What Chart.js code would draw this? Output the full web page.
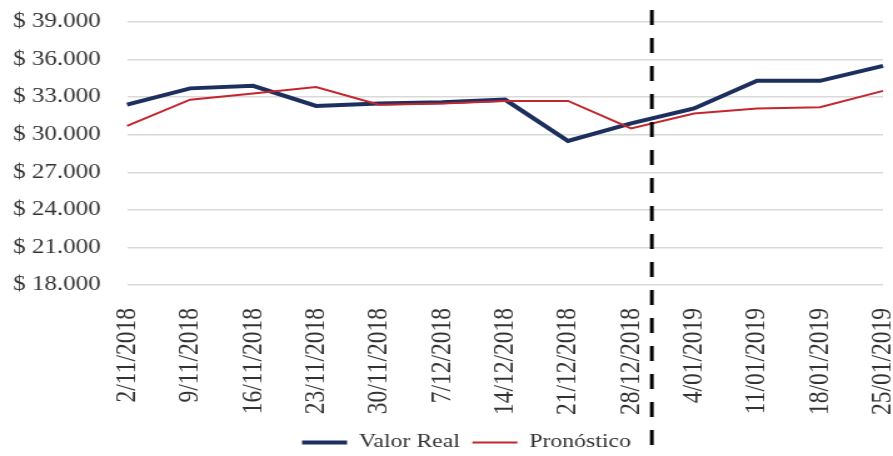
<!DOCTYPE html>
<html>
<head>
<meta charset="utf-8">
<script src="https://cdn.jsdelivr.net/npm/chart.js@4/dist/chart.umd.min.js"></script>
<style>
  html, body { margin: 0; padding: 0; background: #ffffff; overflow: hidden; }
  #wrap { width: 893px; height: 456px; overflow: hidden; }
  /* the drawing is set in a narrower canvas and widened to the page */
  #chart { display: block; width: 714px; height: 456px; transform-origin: 0 0; transform: scaleX(1.2507); }
</style>
</head>
<body>
<div id="wrap"><canvas id="chart" width="714" height="456"></canvas></div>
<script>
// Weekly dates
const fechas = ['2/11/2018', '9/11/2018', '16/11/2018', '23/11/2018', '30/11/2018', '7/12/2018',
                '14/12/2018', '21/12/2018', '28/12/2018', '4/01/2019', '11/01/2019', '18/01/2019', '25/01/2019'];
// Observed price
const valorReal = [32400, 33700, 33900, 32300, 32500, 32600, 32800, 29500, 30900, 32100, 34300, 34300, 35500];
// Model forecast
const pronostico = [30700, 32800, 33300, 33800, 32400, 32500, 32700, 32700, 30500, 31700, 32100, 32200, 33500];
// Y axis range and step
const yMin = 18000, yMax = 39000, yStep = 3000;
// Where the forecast period begins (category index)
const inicioPronostico = 8.33;

const serif = "'Liberation Serif', 'Times New Roman', serif";
const textColor = '#333333';
Chart.defaults.font.family = serif;

function formatPeso(v) {
  return '$ ' + v.toLocaleString('es-CO').replace(/,/g, '.');
}

// Vertical dashed divider between observed and forecast periods
const divider = {
  id: 'divider',
  afterDraw(chart) {
    const x = chart.scales.x.getPixelForValue(inicioPronostico);
    const ctx = chart.ctx;
    ctx.save();
    ctx.strokeStyle = '#000000';
    ctx.lineWidth = 3;
    ctx.setLineDash([15, 13]);
    ctx.beginPath();
    ctx.moveTo(x, 10);
    ctx.lineTo(x, chart.height);
    ctx.stroke();
    ctx.restore();
  }
};

// Nudge the centred legend a little to the right
const legendShift = {
  id: 'legendShift',
  afterLayout(chart) {
    const lg = chart.legend;
    if (lg) { lg.left += 20; lg.right += 20; }
  }
};

new Chart(document.getElementById('chart'), {
  type: 'line',
  data: {
    labels: fechas,
    datasets: [
      {
        label: 'Valor Real',
        data: valorReal,
        borderColor: '#1c2f5e',
        backgroundColor: '#1c2f5e',
        borderWidth: 4,
        pointRadius: 0,
        tension: 0,
        order: 1
      },
      {
        label: 'Pronóstico',
        data: pronostico,
        borderColor: '#c4262e',
        backgroundColor: '#c4262e',
        borderWidth: 2,
        pointRadius: 0,
        tension: 0,
        order: 0
      }
    ]
  },
  options: {
    responsive: false,
    animation: false,
    devicePixelRatio: 1,
    layout: { padding: { left: 0, right: 8, top: 22, bottom: -6 } },
    plugins: {
      tooltip: { enabled: false },
      legend: {
        position: 'bottom',
        labels: {
          usePointStyle: true,
          pointStyle: 'line',
          pointStyleWidth: 36,
          padding: 10,
          color: textColor,
          font: { family: serif, size: 19 },
          sort: (a, b) => a.datasetIndex - b.datasetIndex
        }
      }
    },
    scales: {
      x: {
        offset: false,
        grid: { display: false },
        border: { display: false },
        ticks: {
          autoSkip: false,
          minRotation: 90,
          maxRotation: 90,
          padding: 15,
          color: textColor,
          font: { family: serif, size: 23.5 }
        },
        afterFit(scale) {
          scale.height = 138;
          scale.paddingRight = 8;
          scale.paddingLeft = 0;
          scale.paddingTop = 0;
          scale.paddingBottom = 0;
        }
      },
      y: {
        min: yMin,
        max: yMax,
        grid: { color: '#d9d9d9', lineWidth: 1.5, drawTicks: false },
        border: { display: false },
        ticks: {
          stepSize: yStep,
          padding: 21,
          color: textColor,
          font: { family: serif, size: 20 },
          callback: (v) => formatPeso(v)
        },
        afterFit(scale) {
          scale.width = 101.6;
          scale.paddingTop = 0;
          scale.paddingBottom = 0;
        }
      }
    }
  },
  plugins: [divider, legendShift]
});
</script>
</body>
</html>
